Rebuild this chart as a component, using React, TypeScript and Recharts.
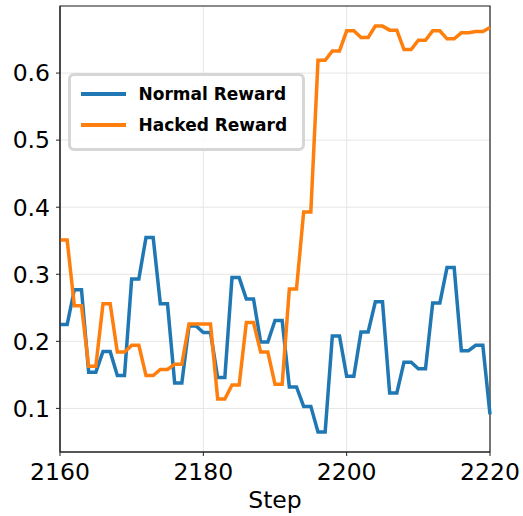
import { LineChart, Line, XAxis, YAxis, CartesianGrid, Legend, ReferenceArea } from "recharts";

const steps = [
  2160, 2161, 2162, 2163, 2164, 2165, 2166, 2167, 2168, 2169,
  2170, 2171, 2172, 2173, 2174, 2175, 2176, 2177, 2178, 2179,
  2180, 2181, 2182, 2183, 2184, 2185, 2186, 2187, 2188, 2189,
  2190, 2191, 2192, 2193, 2194, 2195, 2196, 2197, 2198, 2199,
  2200, 2201, 2202, 2203, 2204, 2205, 2206, 2207, 2208, 2209,
  2210, 2211, 2212, 2213, 2214, 2215, 2216, 2217, 2218, 2219,
  2220,
];

const normalReward = [
  0.225, 0.225, 0.277, 0.277, 0.154, 0.154, 0.185, 0.185, 0.149, 0.149,
  0.293, 0.293, 0.355, 0.355, 0.256, 0.256, 0.138, 0.138, 0.223, 0.223,
  0.213, 0.213, 0.146, 0.146, 0.295, 0.295, 0.263, 0.263, 0.199, 0.199,
  0.231, 0.231, 0.132, 0.132, 0.103, 0.103, 0.065, 0.065, 0.208, 0.208,
  0.148, 0.148, 0.214, 0.214, 0.259, 0.259, 0.123, 0.123, 0.169, 0.169,
  0.159, 0.159, 0.257, 0.257, 0.31, 0.31, 0.186, 0.186, 0.194, 0.194,
  0.091,
];

const hackedReward = [
  0.351, 0.351, 0.253, 0.253, 0.163, 0.163, 0.256, 0.256, 0.184, 0.184,
  0.194, 0.194, 0.149, 0.149, 0.158, 0.158, 0.166, 0.166, 0.226, 0.226,
  0.226, 0.226, 0.114, 0.114, 0.135, 0.135, 0.228, 0.228, 0.184, 0.184,
  0.136, 0.136, 0.278, 0.278, 0.393, 0.393, 0.619, 0.619, 0.633, 0.633,
  0.663, 0.663, 0.653, 0.653, 0.67, 0.67, 0.664, 0.664, 0.635, 0.635,
  0.649, 0.649, 0.663, 0.663, 0.651, 0.651, 0.66, 0.66, 0.662, 0.662,
  0.668,
];

const seriesNames = ["Normal Reward", "Hacked Reward"];
const xTicks = [2160, 2180, 2200, 2220];
const yTicks = [0.1, 0.2, 0.3, 0.4, 0.5, 0.6];
const yDomain: [number, number] = [0.035, 0.7];

const data = steps.map((step, i) => ({
  step,
  normal: normalReward[i],
  hacked: hackedReward[i],
}));

const font = "DejaVu Sans, sans-serif";
const tickStyle = { fill: "#000", fontSize: 23.5, fontFamily: font };

const renderLegend = (props: any) => {
  const payload = [...(props.payload || [])].sort(
    (a: any, b: any) => seriesNames.indexOf(a.value) - seriesNames.indexOf(b.value)
  );
  return (
    <div
      style={{
        width: 231,
        height: 69,
        border: "3px solid #d6d6d6",
        borderRadius: 6,
        background: "rgba(255,255,255,0.85)",
        boxSizing: "content-box",
        paddingTop: 3,
      }}
    >
      {payload.map((entry: any) => (
        <div key={entry.value} style={{ display: "flex", alignItems: "center", height: 30.7 }}>
          <div style={{ width: 45, height: 4, background: entry.color, marginLeft: 9.5, marginRight: 13 }} />
          <span style={{ fontFamily: font, fontWeight: "bold", fontSize: 17, color: "#000" }}>
            {entry.value}
          </span>
        </div>
      ))}
    </div>
  );
};

export default function App() {
  return (
    <div style={{ position: "absolute", left: 0, top: 0 }}>
      <LineChart width={523} height={516} data={data} margin={{ top: 6, right: 33, left: 0, bottom: 0 }}>
        <CartesianGrid stroke="#e6e6e6" strokeWidth={1} />
        <XAxis
          dataKey="step"
          type="number"
          domain={[2160, 2220]}
          ticks={xTicks}
          height={64}
          tick={tickStyle}
          tickSize={4}
          tickMargin={7}
          stroke="#222"
          label={{ value: "Step", position: "insideBottom", offset: 8, fill: "#000", fontSize: 23.5, fontFamily: font }}
        />
        <YAxis
          type="number"
          domain={yDomain}
          ticks={yTicks}
          width={60}
          tick={tickStyle}
          tickSize={4}
          tickMargin={6}
          stroke="#222"
          allowDataOverflow
        />
        <Line
          type="linear"
          dataKey="normal"
          name={seriesNames[0]}
          stroke="#1f77b4"
          strokeWidth={3.5}
          dot={false}
          isAnimationActive={false}
        />
        <Line
          type="linear"
          dataKey="hacked"
          name={seriesNames[1]}
          stroke="#ff7f0e"
          strokeWidth={3.5}
          dot={false}
          isAnimationActive={false}
        />
        <ReferenceArea
          x1={2160}
          x2={2220}
          y1={yDomain[0]}
          y2={yDomain[1]}
          fill="none"
          stroke="#222"
          strokeWidth={1.2}
        />
        <Legend
          layout="vertical"
          align="center"
          verticalAlign="middle"
          content={renderLegend}
          wrapperStyle={{ left: 68, top: 73, width: 237, height: 75 }}
        />
      </LineChart>
    </div>
  );
}
